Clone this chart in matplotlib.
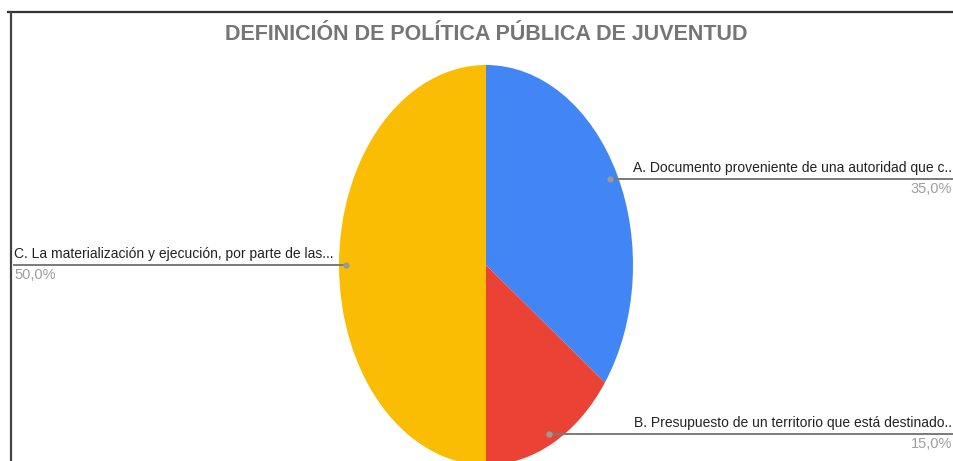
import matplotlib
matplotlib.use("Agg")
import matplotlib.pyplot as plt
import numpy as np

FONT = ["Liberation Sans", "DejaVu Sans"]

title = "DEFINICIÓN DE POLÍTICA PÚBLICA DE JUVENTUD"
labels = ["A. Documento proveniente de una autoridad que c..",
          "B. Presupuesto de un territorio que está destinado..",
          "C. La materialización y ejecución, por parte de las..."]
values = [35.0, 15.0, 50.0]
pct_labels = ["35,0%", "15,0%", "50,0%"]
colors = ["#4285F4", "#EA4335", "#FBBC04"]

W, H = 954, 461
fig = plt.figure(figsize=(W / 100, H / 100), dpi=100)

# pie axes (elliptical pie)
cx, cy_top, rx, ry = 486, 265, 147, 200
ax = fig.add_axes([(cx - rx) / W, (H - cy_top - ry) / H, 2 * rx / W, 2 * ry / H])
wedges, _ = ax.pie(values, colors=colors, startangle=90, counterclock=False,
                   wedgeprops=dict(linewidth=0))
ax.set_aspect("auto")
ax.set_xlim(-1, 1)
ax.set_ylim(-1, 1)
ax.axis("off")

# frame lines (top and left)
fig.add_artist(plt.Line2D([8 / W, 1], [(H - 12) / H] * 2, color="#333333", lw=1.6))
fig.add_artist(plt.Line2D([11 / W] * 2, [0, (H - 12) / H], color="#444444", lw=1.6))

fig.text(cx / W, (H - 34) / H, title, ha="center", va="center",
         fontsize=15.5, fontweight="bold", color="#757575", family=FONT)

def to_fig(xd, yd):
    px, py = ax.transData.transform((xd, yd))
    return px / W, py / H

total = sum(values)
start = 90.0
for i, v in enumerate(values):
    span = 360.0 * v / total
    mid = np.deg2rad(start - span / 2)
    start -= span
    dx, dy = 0.95 * np.cos(mid), 0.95 * np.sin(mid)
    fx, fy = to_fig(dx, dy)
    right = np.cos(mid) >= 0
    if right:
        x0, x1 = fx, 1.0
        tx, ha = 952 / W, "right"
    else:
        x0, x1 = 14 / W, fx
        tx, ha = 14 / W, "left"
    fig.add_artist(plt.Line2D([x0, x1], [fy, fy], color="#7a7a7a", lw=1.4))
    fig.add_artist(plt.Line2D([fx], [fy], marker="o", ms=3.5, color="#9a9a9a", lw=0))
    fig.text(tx, fy + 4 / H, labels[i], ha=ha, va="bottom", fontsize=10,
             color="#222222", family=FONT)
    fig.text(tx, fy - 3 / H, pct_labels[i], ha=ha, va="top", fontsize=10.5,
             color="#9e9e9e", family=FONT)

fig.savefig("out.png", dpi=100, facecolor="white")
